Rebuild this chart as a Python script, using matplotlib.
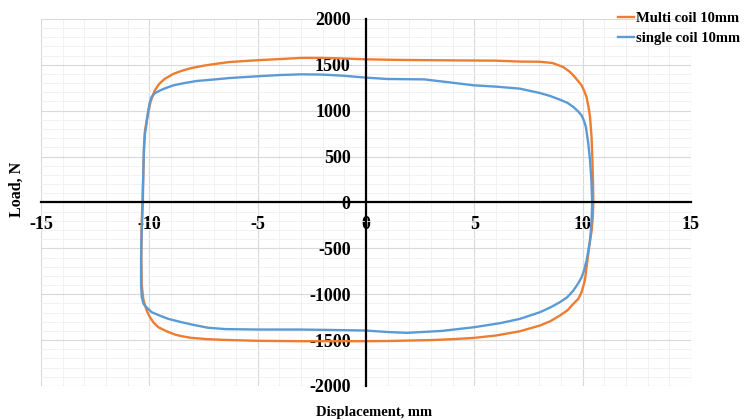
import matplotlib.pyplot as plt
from matplotlib.ticker import MultipleLocator

# Multi coil 10mm loop (clockwise, starting at left zero crossing)
multi_x = [-10.32, -10.28, -10.24, -10.2, -10.12, -10.03, -9.95, -9.85, -9.75, -9.55,
           -9.3, -8.9, -8.5, -8.1, -7.5, -7.0, -6.3, -5.0, -4.0, -3.0,
           -2.0, -1.0, 0.0, 1.0, 2.0, 4.0, 6.0, 7.1, 8.0, 8.6,
           9.1, 9.4, 9.57, 9.8, 9.95, 10.08, 10.18, 10.27, 10.34, 10.41,
           10.45, 10.48, 10.49, 10.47, 10.42, 10.34, 10.22, 10.1, 9.95, 9.8,
           9.57, 9.3, 8.95, 8.5, 8.03, 7.1, 6.0, 4.98, 4.0, 3.0,
           1.0, 0.0, -1.0, -3.0, -5.0, -6.5, -7.3, -8.05, -8.5, -8.81,
           -9.2, -9.58, -9.8, -9.97, -10.1, -10.2, -10.28, -10.35, -10.37, -10.36,
           -10.32]
multi_y = [0, 300, 600, 785, 894, 1000, 1090, 1160, 1220, 1290,
           1345, 1400, 1435, 1462, 1490, 1508, 1530, 1550, 1562, 1575,
           1575, 1568, 1560, 1555, 1552, 1548, 1545, 1535, 1533, 1520,
           1476, 1425, 1385, 1320, 1276, 1210, 1148, 1040, 930, 712,
           458, 200, 0, -150, -300, -414, -633, -851, -978, -1050,
           -1105, -1175, -1232, -1295, -1341, -1404, -1450, -1476, -1490, -1500,
           -1510, -1512, -1512, -1512, -1508, -1498, -1490, -1476, -1458, -1440,
           -1405, -1360, -1310, -1251, -1190, -1123, -1050, -900, -600, -300,
           0]

# single coil 10mm loop
single_x = [-10.30, -10.28, -10.25, -10.2, -10.15, -10.1, -10.05, -9.98, -9.9, -9.75,
            -9.5, -9.2, -8.89, -8.4, -7.83, -7.0, -6.28, -5.0, -4.0, -3.0,
            -2.0, -1.0, 0.0, 1.0, 2.68, 3.8, 4.98, 6.0, 7.1, 8.03,
            8.5, 8.95, 9.3, 9.57, 9.8, 9.95, 10.06, 10.15, 10.26, 10.34,
            10.4, 10.44, 10.42, 10.38, 10.34, 10.18, 10.05, 9.95, 9.8, 9.57,
            9.3, 8.95, 8.5, 8.03, 7.1, 6.2, 4.98, 3.5, 1.9, 1.0,
            0.0, -1.5, -3.05, -5.0, -6.5, -7.3, -8.05, -8.6, -9.12, -9.5,
            -9.89, -10.1, -10.27, -10.35, -10.38, -10.38, -10.35, -10.30]
single_y = [0, 300, 600, 760, 821, 920, 1003, 1090, 1148, 1190,
            1221, 1250, 1276, 1300, 1323, 1340, 1356, 1375, 1388, 1396,
            1393, 1380, 1360, 1345, 1341, 1310, 1276, 1262, 1240, 1192,
            1160, 1120, 1085, 1040, 990, 949, 890, 821, 640, 458,
            250, 0, -150, -300, -414, -633, -750, -815, -880, -960,
            -1030, -1087, -1145, -1196, -1269, -1315, -1360, -1400, -1421, -1412,
            -1396, -1390, -1385, -1385, -1380, -1365, -1330, -1300, -1269, -1235,
            -1196, -1150, -1105, -1030, -900, -600, -300, 0]

x_ticks = [-15, -10, -5, 0, 5, 10, 15]
y_ticks = [-2000, -1500, -1000, -500, 0, 500, 1000, 1500, 2000]

plt.rcParams['font.family'] = ['Liberation Serif', 'DejaVu Serif']
plt.rcParams['font.weight'] = 'bold'
plt.rcParams['axes.unicode_minus'] = False

fig = plt.figure(figsize=(7.48, 4.2), dpi=100)
ax = fig.add_axes([0.0548, 0.081, 0.8690, 0.874])

ax.plot(multi_x, multi_y, color='#ED7D31', lw=1.7, label='Multi coil 10mm')
ax.plot(single_x, single_y, color='#5B9BD5', lw=1.7, label='single coil 10mm')

ax.set_xlim(-15, 15)
ax.set_ylim(-2000, 2000)
ax.set_xticks(x_ticks)
ax.set_yticks(y_ticks)
ax.xaxis.set_minor_locator(MultipleLocator(1))
ax.yaxis.set_minor_locator(MultipleLocator(100))
ax.grid(which='major', color='#d9d9d9', lw=0.8)
ax.grid(which='minor', color='#f0f0f0', lw=0.6)
ax.set_axisbelow(True)

ax.spines['left'].set_position(('data', 0))
ax.spines['bottom'].set_position(('data', 0))
ax.spines['left'].set_linewidth(1.6)
ax.spines['bottom'].set_linewidth(1.6)
ax.spines['right'].set_visible(False)
ax.spines['top'].set_visible(False)
ax.tick_params(which='both', length=0, labelsize=13)
ax.tick_params(axis='y', pad=11)
ax.tick_params(axis='x', pad=10)
for lab in ax.get_xticklabels() + ax.get_yticklabels():
    lab.set_fontweight('bold')

fig.text(0.022, 0.55, 'Load, N', rotation=90, ha='center', va='center',
         fontsize=11.5, fontweight='bold')
fig.text(0.5, 0.019, 'Displacement, mm', ha='center', va='center',
         fontsize=10.5, fontweight='bold')

# legend sits in the top-right corner, outside the plot area
fig.legend(loc='upper left', bbox_to_anchor=(0.818, 0.986), frameon=False,
           prop={'size': 10.5, 'weight': 'bold'}, handlelength=1.1,
           handletextpad=0.13, labelspacing=0.5, borderaxespad=0)

fig.savefig('out.png', dpi=100)
